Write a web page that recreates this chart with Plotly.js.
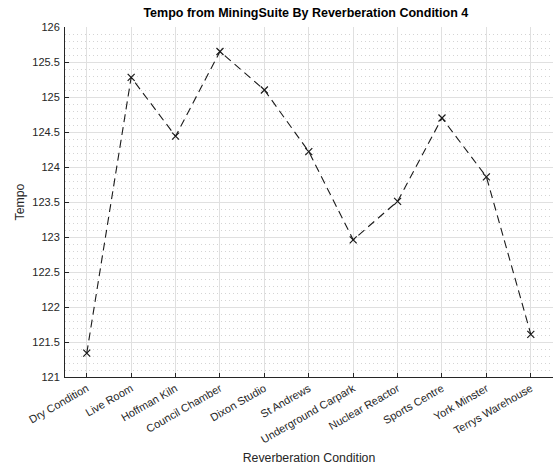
<!DOCTYPE html>
<html>
<head>
<meta charset="utf-8">
<script src="https://cdn.plot.ly/plotly-3.0.1.min.js"></script>
<style>html,body{margin:0;padding:0;background:#fff;}#chart{width:553px;height:467px;}</style>
</head>
<body>
<div id="chart"></div>
<script>
var categories = ["Dry Condition","Live Room","Hoffman Kiln","Council Chamber","Dixon Studio","St Andrews","Underground Carpark","Nuclear Reactor","Sports Centre","York Minster","Terrys Warehouse"];
var tempo = [121.34, 125.28, 124.44, 125.65, 125.1, 124.22, 122.96, 123.51, 124.7, 123.86, 121.61];
var yTicks = [121,121.5,122,122.5,123,123.5,124,124.5,125,125.5,126];
var yTickText = ["121","121.5","122","122.5","123","123.5","124","124.5","125","125.5","126"];

var trace = {
  x: categories.map(function(c,i){return i;}),
  y: tempo,
  type: 'scatter',
  mode: 'lines+markers',
  line: {color: '#1a1a1a', width: 1.1, dash: '8px,5px'},
  marker: {symbol: 'x-thin-open', size: 7, color: '#1a1a1a', line: {width: 1.2, color: '#1a1a1a'}},
  hoverinfo: 'skip'
};

var layout = {
  width: 553, height: 467,
  margin: {l: 65, r: 0, t: 27, b: 90},
  paper_bgcolor: '#fff', plot_bgcolor: '#fff',
  showlegend: false,
  font: {family: 'Liberation Sans, Arial, sans-serif', size: 11, color: '#262626'},
  title: {text: '<b>Tempo from MiningSuite By Reverberation Condition 4</b>', font: {size: 12.5, color: '#000'}, x: 0.553, xanchor: 'center', y: 0.972, yanchor: 'middle'},
  xaxis: {
    range: [-0.49, 10.5],
    tickvals: categories.map(function(c,i){return i;}),
    ticktext: categories,
    tickangle: -30,
    ticks: 'inside', ticklen: 4, tickcolor: '#262626',
    showline: true, linecolor: '#262626', linewidth: 1,
    showgrid: true, gridcolor: '#e0e0e0', gridwidth: 1,
    zeroline: false,
    tickfont: {size: 11, color: '#262626'},
    title: {text: 'Reverberation Condition', font: {size: 12.3, color: '#262626'}, standoff: 8}
  },
  yaxis: {
    range: [121, 126],
    tickvals: yTicks,
    ticktext: yTickText,
    ticks: 'inside', ticklen: 4, tickcolor: '#262626',
    showline: true, linecolor: '#262626', linewidth: 1,
    showgrid: true, gridcolor: '#e0e0e0', gridwidth: 1,
    zeroline: false,
    tickfont: {size: 11, color: '#262626'},
    ticklabelstandoff: 2,
    minor: {dtick: 0.1, showgrid: true, gridcolor: '#d4d4d4', griddash: '1px,3px', gridwidth: 1, ticks: ''},
    title: {text: 'Tempo', font: {size: 12.3, color: '#262626'}, standoff: 4}
  }
};

Plotly.newPlot('chart', [trace], layout, {displayModeBar: false, staticPlot: true});
</script>
</body>
</html>
